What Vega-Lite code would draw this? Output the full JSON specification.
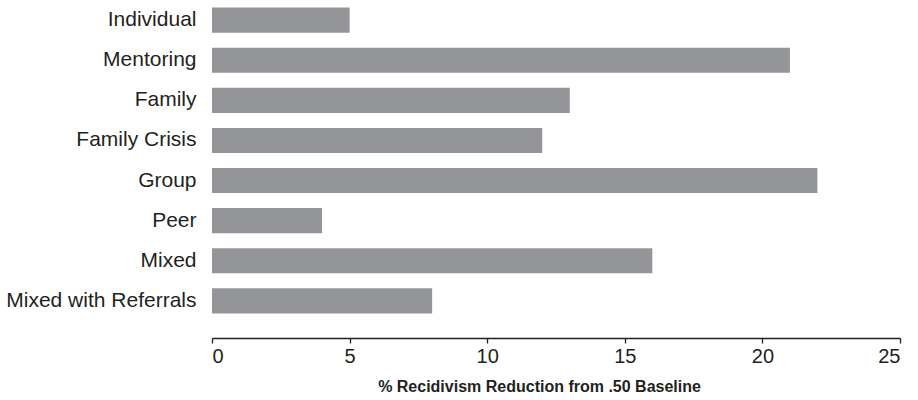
{
  "$schema": "https://vega.github.io/schema/vega-lite/v6.json",
  "autosize": {"type": "none"},
  "padding": {"left": 212, "top": 0, "right": 18, "bottom": 80},
  "width": 688,
  "height": 321,
  "background": "white",
  "config": {"view": {"stroke": null}, "font": "Liberation Sans"},
  "data": {"values": [
    {"program": "Individual", "reduction": 5},
    {"program": "Mentoring", "reduction": 21},
    {"program": "Family", "reduction": 13},
    {"program": "Family Crisis", "reduction": 12},
    {"program": "Group", "reduction": 22},
    {"program": "Peer", "reduction": 4},
    {"program": "Mixed", "reduction": 16},
    {"program": "Mixed with Referrals", "reduction": 8}
  ]},
  "mark": {"type": "bar", "color": "#939598"},
  "encoding": {
    "y": {
      "field": "program", "type": "nominal", "sort": null, "title": null,
      "scale": {"paddingInner": 0.375, "paddingOuter": 0.19},
      "axis": {"domain": false, "ticks": false, "labelFontSize": 21, "labelColor": "#231f20", "labelPadding": 16, "labelLimit": 400, "labelFont": "Liberation Sans"}
    },
    "x": {
      "field": "reduction", "type": "quantitative",
      "title": "% Recidivism Reduction from .50 Baseline",
      "scale": {"domain": [0, 25], "nice": false},
      "axis": {
        "values": [0, 5, 10, 15, 20, 25], "grid": false, "offset": 17,
        "domainColor": "#231f20", "domainWidth": 1.3, "tickColor": "#231f20", "tickSize": 5, "tickWidth": 1.3,
        "labelFontSize": 20, "labelColor": "#231f20", "labelPadding": 3, "labelFont": "Liberation Sans",
        "titleFontSize": 16, "titleFontWeight": "bold", "titleColor": "#231f20", "titlePadding": 12, "titleFont": "Liberation Sans",
        "titleX": 327, "titleAlign": "center"
      }
    }
  }
}
